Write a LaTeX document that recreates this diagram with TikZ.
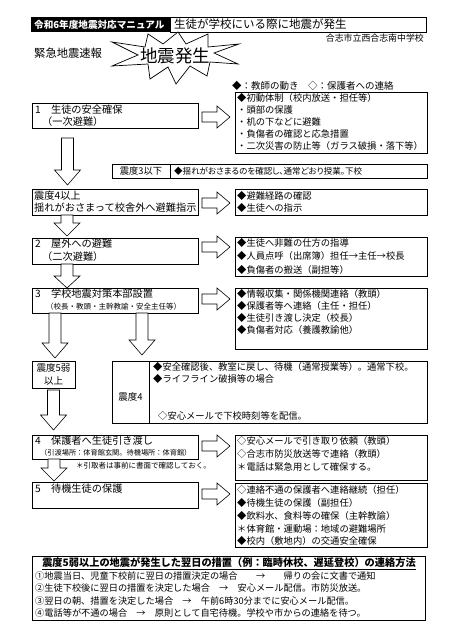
\documentclass[tikz,border=0pt]{standalone}
\usepackage{fontspec}
\setmainfont{Noto Sans CJK JP}
\newfontfamily\pj[RawFeature=+palt]{Noto Sans CJK JP}
\usetikzlibrary{fit}
\newcommand\bx[5]{\node[box,fit={(#2,#3) (#4,#5)}] (#1) {};}
\newcommand\darr[5]{\draw[harrow] ({#1-6},#2)--({#1-6},#3)--({#1-13},#3)--(#1,#4)--({#1+13},#3)--({#1+6},#3)--({#1+6},#2)--cycle; \coordinate (#5) at (#1,#4);}
\begin{document}
\begin{tikzpicture}[x=1pt,y=-1pt,
  box/.style={draw,line width=0.8pt,inner sep=0pt},
  t/.style={anchor=west,inner sep=0pt,font=\fontsize{9.3}{9.3}\selectfont},
  tl/.style={anchor=west,inner sep=0pt,font=\fontsize{10.2}{10.2}\selectfont},
  ts/.style={anchor=west,inner sep=0pt,font=\fontsize{7.5}{7.5}\selectfont},
  tb/.style={anchor=west,inner sep=0pt,font=\fontsize{9.2}{9.2}\selectfont},
  tc/.style={anchor=center,inner sep=0pt,font=\fontsize{9.3}{9.3}\selectfont},
  harrow/.style={draw,line width=0.6pt,fill=white},
  rarr/.pic={\draw[harrow] (0,-5)--(15,-5)--(15,-11)--(28,0)--(15,11)--(15,5)--(0,5)--cycle;}
]
\fill[white] (0,0) rectangle (448,628);
\useasboundingbox (0,0) rectangle (448,628);

% title
\node[fill=black,inner sep=0pt,fit={(31,17) (170,32)}] (tbl) {};
\node[anchor=west,inner sep=0pt,text=white,font=\fontsize{9.6}{9.6}\selectfont\bfseries] (ttl) at (34,24.5) {令和6年度地震対応マニュアル};
\bx{tw}{170}{17}{426}{32}
\node[anchor=west,inner sep=0pt,font=\fontsize{11.5}{11.5}\selectfont] (ttx) at (174,24.5) {生徒が学校にいる際に地震が発生};
\node[anchor=east,inner sep=0pt,font=\fontsize{8.9}{8.9}\selectfont] (school) at (424,38) {合志市立西合志南中学校};
\node[anchor=west,inner sep=0pt,font=\fontsize{11.3}{11.3}\selectfont] (eew) at (34,53) {緊急地震速報};

% starburst
\draw[line width=0.7pt,fill=white] (112,42)--(145,47)--(148,34)--(163,44)--(178,32)--(186,44)--(208,34)--(208,47)--(239,44)--(214,53)--(238,64)--(210,62)--(207,76)--(190,66)--(176,84)--(168,67)--(150,79)--(148,64)--(112,66)--(138,55)--cycle;
\node[inner sep=0pt,font=\fontsize{17.5}{17.5}\selectfont] (quake) at (175,56) {地震発生};

\node[t,font=\fontsize{9.5}{9.5}\selectfont] (legend) at (232,86) {◆：教師の動き　◇：保護者への連絡};

% step 1
\bx{r1}{235}{92}{427}{153}
\node[t] at (237,98) {◆初動体制（校内放送・担任等）};
\node[t] at (237,110) {・頭部の保護};
\node[t] at (237,122) {・机の下などに避難};
\node[t] at (237,134) {・負傷者の確認と応急措置};
\node[t] at (237,146) {・二次災害の防止等（ガラス破損・落下等）};
\bx{l1}{32}{103}{198}{128}
\node[tl] at (35,110) {1　生徒の安全確保};
\node[tl] at (42,122) {（一次避難）};
\pic at (202,117) {rarr};
\darr{67.5}{138}{170}{185}{a1}

% shindo 3
\bx{s3}{112}{164}{427}{178}
\draw[line width=0.8pt] (170,164)--(170,178);
\node[tc] at (141,171) {震度3以下};
\node[t,font=\fontsize{8.5}{8.5}\selectfont\pj] at (174,171) {◆揺れがおさまるのを確認し、通常どおり授業。下校};

% shindo 4 ijo
\bx{l4i}{32}{189}{198}{215}
\node[tl] at (34,196) {震度4以上};
\node[tl] at (34,208) {揺れがおさまって校舎外へ避難指示};
\pic at (202,203) {rarr};
\bx{r4i}{235}{189}{427}{215}
\node[t] at (237,196) {◆避難経路の確認};
\node[t] at (237,208) {◆生徒への指示};
\darr{67}{215}{223}{236}{a2}

% step 2
\bx{l2}{32}{238}{198}{264}
\node[tl] at (35,244) {2　屋外への避難};
\node[tl] at (42,257) {（二次避難）};
\pic at (202,247) {rarr};
\bx{r2}{235}{237}{427}{276}
\node[t] at (237,243) {◆生徒へ非難の仕方の指導};
\node[t] at (237,256) {◆人員点呼（出席簿）担任→主任→校長};
\node[t] at (237,270) {◆負傷者の搬送（副担等）};
\darr{67}{264}{276}{288}{a3}

% step 3
\bx{l3}{32}{288}{198}{313}
\node[tl] at (35,294) {3　学校地震対策本部設置};
\node[ts] at (46,307) {（校長・教頭・主幹教諭・安全主任等）};
\pic at (202,299) {rarr};
\bx{r3}{235}{288}{427}{349}
\node[t] at (237,294) {◆情報収集・関係機関連絡（教頭）};
\node[t] at (237,306) {◆保護者等へ連絡（主任・担任）};
\node[t] at (237,318) {◆生徒引き渡し決定（校長）};
\node[t] at (237,330) {◆負傷者対応（養護教諭他）};
\darr{55}{313}{343}{358}{a4}
\darr{142}{313}{340}{355}{a5}

% shindo 5 / 4
\bx{s5}{32}{361}{75}{388}
\node[tc,font=\fontsize{9.5}{9.5}\selectfont] at (53.5,368) {震度5弱};
\node[tc,font=\fontsize{9.5}{9.5}\selectfont] at (53.5,381) {以上};
\bx{s4}{112}{361}{427}{423}
\draw[line width=0.8pt] (149,361)--(149,423);
\node[tc,font=\fontsize{9.5}{9.5}\selectfont] at (130.5,397) {震度4};
\node[t] at (153,367) {◆安全確認後、教室に戻し、待機（通常授業等）。通常下校。};
\node[t] at (153,379) {◆ライフライン破損等の場合};
\node[t] at (158,416) {◇安心メールで下校時刻等を配信。};
\darr{53.5}{390}{415}{430}{a6}

% step 4
\bx{l4}{32}{435}{198}{459}
\node[tl] at (35,441) {4　保護者へ生徒引き渡し};
\node[ts,font=\fontsize{7.2}{7.2}\selectfont] at (40,453) {（引渡場所：体育館玄関。待機場所：体育館）};
\node[ts] at (76,466) {＊引取者は事前に書面で確認しておく。};
\pic at (202,446) {rarr};
\bx{r4}{235}{435}{427}{480}
\node[t] at (237,441) {◇安心メールで引き取り依頼（教頭）};
\node[t] at (237,454) {◇合志市防災放送等で連絡（教頭）};
\node[t] at (237,467) {＊電話は緊急用として確保する。};
\darr{54}{459}{468}{481}{a7}

% step 5
\bx{l5}{32}{482}{198}{508}
\node[tl] at (35,489) {5　待機生徒の保護};
\pic at (202,494) {rarr};
\bx{r5}{235}{483}{427}{547}
\node[t] at (237,490) {◇連絡不通の保護者へ連絡継続（担任）};
\node[t] at (237,503) {◆待機生徒の保護（副担任）};
\node[t] at (237,516) {◆飲料水、食料等の確保（主幹教諭）};
\node[t] at (237,529) {＊体育館・運動場：地域の避難場所};
\node[t] at (237,541) {◆校内（敷地内）の交通安全確保};

% bottom
\bx{bt}{32}{556}{425}{620}
\node[inner sep=0pt,font=\fontsize{10.2}{10.2}\selectfont\bfseries] (hd) at (229,563) {震度5弱以上の地震が発生した翌日の措置（例：臨時休校、遅延登校）の連絡方法};
\draw[line width=0.7pt] ([yshift=-1.5pt]hd.south west)--([yshift=-1.5pt]hd.south east);
\node[tb] (n1) at (35,576) {①地震当日、児童下校前に翌日の措置決定の場合　　→　　帰りの会に文書で通知};
\node[tb] (n2) at (35,588) {②生徒下校後に翌日の措置を決定した場合　→　安心メール配信。市防災放送。};
\node[tb] (n3) at (35,601) {③翌日の朝、措置を決定した場合　→　午前6時30分までに安心メール配信。};
\node[tb] (n4) at (35,613) {④電話等が不通の場合　→　原則として自宅待機。学校や市からの連絡を待つ。};
\end{tikzpicture}
\end{document}
